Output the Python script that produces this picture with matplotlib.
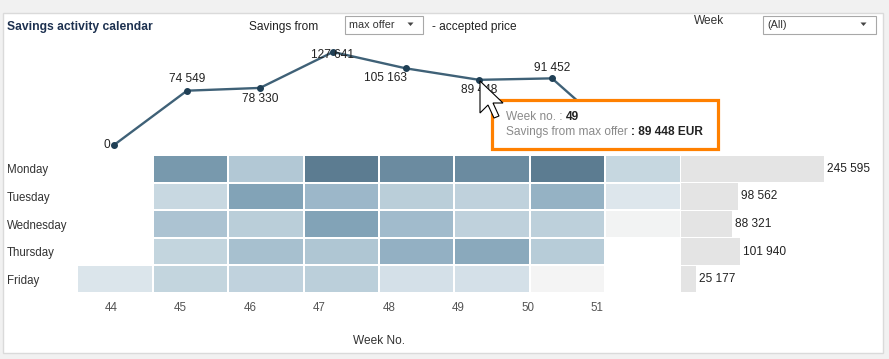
import numpy as np
import matplotlib
matplotlib.use("Agg")
import matplotlib.pyplot as plt
from matplotlib.colors import LinearSegmentedColormap, Normalize
from matplotlib.patches import Rectangle, Polygon

plt.rcParams['font.family'] = ['Liberation Sans', 'DejaVu Sans']

# data
weeks = [44, 45, 46, 47, 48, 49, 50, 51]
weekly_savings = [0, 74549, 78330, 127641, 105163, 89448, 91452, 3000]
days = ['Monday', 'Tuesday', 'Wednesday', 'Thursday', 'Friday']
day_totals = [245595, 98562, 88321, 101940, 25177]
nan = np.nan
# savings per weekday and week (estimated from cell shades)
mon = [nan, 38500, 19000, 50000, 44000, 44000, 50000, 12500]
tue = [nan, 12000, 34500, 26000, 16500, 15000, 28500, 6000]
wed = [nan, 21000, 16500, 34500, 24500, 15000, 15500, 500]
thu = [nan, 13500, 22500, 20000, 29000, 32000, 17500, nan]
fri = [6500, 13500, 14500, 16000, 8500, 8500, 0, nan]

W, H = 889, 359
fig = plt.figure(figsize=(W / 100, H / 100), dpi=100)
fig.patch.set_facecolor('#f1f1f1')


def box(x0, y0, x1, y1):
    # axes from a pixel box (y measured from the top)
    return fig.add_axes([x0 / W, 1 - y1 / H, (x1 - x0) / W, (y1 - y0) / H])


def span(p0, p1, a, pa, b, pb):
    # data range covering pixels p0..p1 when value a sits at pixel pa and b at pb
    k = (b - a) / (pb - pa)
    return a + (p0 - pa) * k, a + (p1 - pa) * k


def fmt(v):
    return f"{v:,}".replace(",", " ")


# dashboard chrome
bg = box(0, 0, W, H)
bg.set_xlim(0, W)
bg.set_ylim(H, 0)
bg.axis('off')
bg.add_patch(Rectangle((2.5, 12.5), 880, 340, fc='white', ec='#dadada', lw=1))
bg.text(7, 27, 'Savings activity calendar', fontsize=8.7, fontweight='bold',
        color='#1d3150', va='center')
bg.text(249, 27, 'Savings from', fontsize=8.6, color='#222222', va='center')
bg.text(432, 27, '- accepted price', fontsize=8.6, color='#222222', va='center')
bg.text(694, 21, 'Week', fontsize=8.6, color='#333333', va='center')
for (x, w, label) in [(344.5, 78, 'max offer'), (762.5, 113, '(All)')]:
    bg.add_patch(Rectangle((x, 15.5), w, 18, fc='white', ec='#a8a8a8', lw=0.8))
    bg.text(x + 4.5, 24.5, label, fontsize=7.8, color='#333333', va='center')
    tx = x + w - 12
    bg.add_patch(Polygon([(tx - 3, 22.5), (tx + 3, 22.5), (tx, 26)], fc='#444444', ec='none'))

# weekly savings line
ax_line = box(77, 40, 681, 150)
ax_line.set_xlim(*span(77, 681, 44, 114, 51, 625))
ax_line.set_ylim(*span(150, 40, 0, 145, 127641, 52))
ax_line.axis('off')
ax_line.plot(weeks, weekly_savings, color='#3f6177', lw=1.7, marker='o', ms=4,
             mfc='#1f3f55', mec='#1f3f55', clip_on=False)
# label of week 51 sits under the tooltip in the dashboard, so it is not drawn
offsets = [(-4, 0), (0, 12), (0, -11), (0, -3), (-20, -10), (0, -10), (0, 10)]
for w, v, (dx, dy) in zip(weeks[:-1], weekly_savings[:-1], offsets):
    ax_line.annotate(fmt(v), (w, v), xytext=(dx, dy), textcoords='offset pixels',
                     ha='right' if dx < 0 and dy == 0 else 'center', va='center',
                     fontsize=8.6, color='#222222')

# calendar heatmap
cmap = LinearSegmentedColormap.from_list('sav', [
    (0.0, '#f4f4f4'), (0.12, '#dde6ec'), (0.25, '#c6d7e0'),
    (0.5, '#9fbacb'), (0.7, '#81a2b6'), (1.0, '#5c7c91')])
grid = np.ma.masked_invalid(np.array([mon, tue, wed, thu, fri]))
ax_heat = box(77, 155, 681, 293)
ax_heat.pcolormesh(np.arange(43.5, 52.5), np.arange(6), grid, cmap=cmap,
                   norm=Normalize(0, 50000), edgecolors='white', linewidth=0.3)
ax_heat.set_xlim(43.5, 51.5)
ax_heat.set_ylim(5, 0)
ax_heat.set_facecolor('none')
for s in ax_heat.spines.values():
    s.set_visible(False)
ax_heat.set_xticks([])
ax_heat.set_yticks(np.arange(5) + 0.5, days)
ax_heat.tick_params(axis='y', length=0, pad=50.4, labelsize=8.3, labelcolor='#333333')
for lbl in ax_heat.get_yticklabels():
    lbl.set_ha('left')

# week tick labels (own spacing as in the dashboard)
ax_tick = box(77, 290, 681, 298)
ax_tick.set_xlim(*span(77, 681, 44, 111, 51, 597))
ax_tick.set_facecolor('none')
for s in ax_tick.spines.values():
    s.set_visible(False)
ax_tick.set_yticks([])
ax_tick.set_xticks(weeks, [str(w) for w in weeks])
ax_tick.tick_params(axis='x', length=0, pad=3, labelsize=8.3, labelcolor='#555555')
ax_tick.set_xlabel('Week No.', fontsize=8.6, color='#333333', labelpad=15)

# weekday totals
ax_bar = box(681, 155, 881, 293)
ax_bar.set_xlim(*span(681, 881, 0, 681, 245595, 824))
ax_bar.set_ylim(4.5, -0.5)
ax_bar.barh(range(5), day_totals, height=0.95, color='#e4e4e4')
for i, v in enumerate(day_totals):
    ax_bar.annotate(fmt(v), (v, i), xytext=(3, 0), textcoords='offset pixels',
                    va='center', fontsize=8.6, color='#222222')
ax_bar.axis('off')

# tooltip and cursor overlay
ov = box(0, 0, W, H)
ov.set_xlim(0, W)
ov.set_ylim(H, 0)
ov.axis('off')
ov.add_patch(Rectangle((494, 102), 226, 49, fc='#d8d8d8', ec='none'))
ov.add_patch(Rectangle((491.5, 99.5), 226, 49, fc='white', ec='#ff8000', lw=2.3))
t1 = ov.text(506, 117, 'Week no. : ', fontsize=8.6, color='#8a8a8a', va='center')
ov.annotate('49', xy=(1, 0), xycoords=t1, va='bottom', fontsize=8.6,
            fontweight='bold', color='#222222')
t2 = ov.text(506, 132, 'Savings from max offer ', fontsize=8.6, color='#8a8a8a', va='center')
ov.annotate(': 89 448 EUR', xy=(1, 0), xycoords=t2, va='bottom', fontsize=8.6,
            fontweight='bold', color='#222222')
arrow = np.array([(0, 0), (0, 16), (4, 12), (7, 18.5), (9.5, 17.5), (6.5, 11), (11.5, 11)])
ov.add_patch(Polygon(arrow * 2 + [480, 81], closed=True, fc='white', ec='black', lw=0.8))

fig.savefig('out.png', dpi=100, facecolor=fig.get_facecolor())
